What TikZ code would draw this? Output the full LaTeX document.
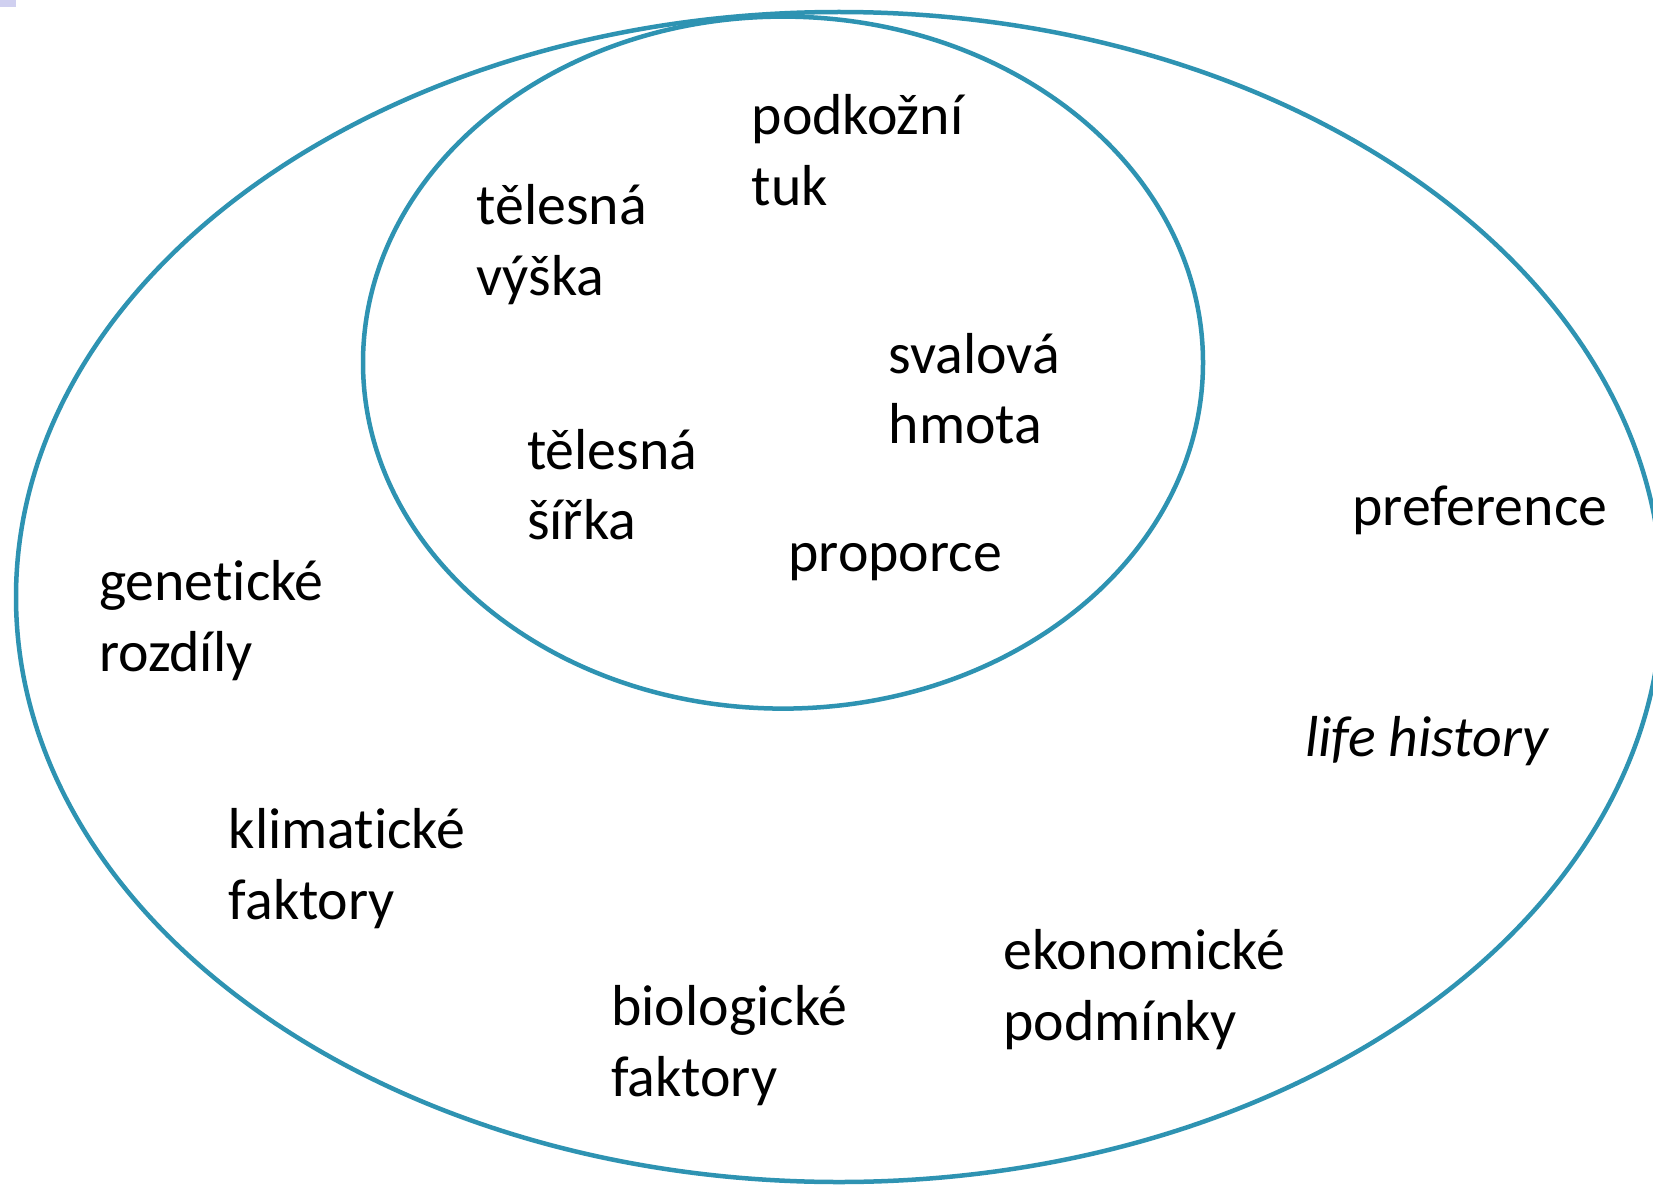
\documentclass[tikz,border=0pt]{standalone}
\usepackage{fontspec}
\setmainfont{Carlito}[Ligatures={NoCommon}]
\usetikzlibrary{shapes.geometric}
\definecolor{ringblue}{RGB}{46,147,178}
\definecolor{markviolet}{RGB}{208,208,240}
\tikzset{
  ring/.style={ellipse, draw=ringblue, line width=4.5pt, inner sep=0pt, outer sep=0pt},
  lbl/.style={anchor=base west, align=left, inner sep=0pt, outer sep=0pt,
    font=\fontsize{57.8}{70.6}\selectfont, text=black}
}
\begin{document}
\begin{tikzpicture}[x=1pt,y=-1pt]
\useasboundingbox (0,0) rectangle (1653,1185);
\clip (0,0) rectangle (1653,1185);
\fill[white] (0,0) rectangle (1653,1185);
\fill[markviolet] (0,0) rectangle (16,7);
\node[ring, minimum width=1646pt, minimum height=1170pt] (outer) at (839,597) {};
\node[ring, minimum width=840pt, minimum height=692pt] (inner) at (783,362.6) {};
% two-line labels: anchor is the baseline of the second line
\node[lbl] (podkozni) at (751.7,205.5) {podkožní\\tuk};
\node[lbl] (vyska) at (476.5,295.1) {tělesná\\výška};
\node[lbl] (svalova) at (888.7,443.8) {svalová\\hmota};
\node[lbl] (sirka) at (527.1,539.7) {tělesná\\šířka};
\node[lbl] (proporce) at (788.5,571.4) {proporce};
\node[lbl] (preference) at (1352.5,525) {preference};
\node[lbl] (geneticke) at (99.1,671.5) {genetické\\rozdíly};
\node[lbl] (lifehistory) at (1305,756.9) {\itshape life history};
\node[lbl] (klimaticke) at (228.8,919.2) {klimatické\\faktory};
\node[lbl] (ekonomicke) at (1003.6,1040.5) {ekonomické\\podmínky};
\node[lbl] (biologicke) at (611.4,1096.3) {biologické\\faktory};
\end{tikzpicture}
\end{document}
